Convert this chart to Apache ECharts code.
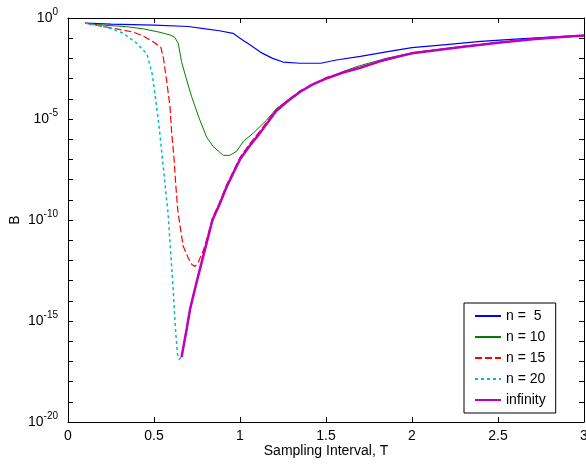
<!DOCTYPE html>
<html>
<head>
<meta charset="utf-8">
<script src="https://cdn.jsdelivr.net/npm/echarts@6/dist/echarts.min.js"></script>
<style>
html,body{margin:0;padding:0;background:#fff;}
#c{width:586px;height:472px;}
</style>
</head>
<body>
<div id="c"></div>
<script>
// log10(B) values
var seriesNames = ['n =  5', 'n = 10', 'n = 15', 'n = 20', 'infinity'];
var xTicks = [0, 0.5, 1, 1.5, 2, 2.5, 3];
var yTickLabels = [0, -5, -10, -15, -20];

var T_n5 = [0.1, 0.25, 0.5, 0.7, 0.8, 0.88, 0.96, 1.0, 1.06, 1.12, 1.19, 1.25, 1.35, 1.47, 1.56, 1.7, 1.85, 2.0, 2.2, 2.4, 2.6, 2.8, 3.0];
var logB_n5 = [-0.25, -0.3, -0.35, -0.42, -0.54, -0.63, -0.76, -1.0, -1.34, -1.7, -2.0, -2.18, -2.24, -2.24, -2.08, -1.9, -1.68, -1.47, -1.32, -1.16, -1.05, -0.95, -0.86];

var T_n10 = [0.1, 0.17, 0.34, 0.44, 0.535, 0.593, 0.62, 0.641, 0.66, 0.69, 0.719, 0.762, 0.806, 0.845, 0.903, 0.94, 0.98, 1.02, 1.077, 1.155, 1.21, 1.31, 1.41, 1.5, 1.6, 1.68, 1.85, 2.0, 2.3, 2.7, 3.0];
var logB_n10 = [-0.25, -0.33, -0.43, -0.54, -0.71, -0.84, -0.95, -1.25, -2.16, -3.07, -3.9, -4.95, -5.9, -6.37, -6.8, -6.8, -6.6, -6.1, -5.7, -5.05, -4.5, -3.85, -3.35, -3.0, -2.65, -2.4, -2.0, -1.72, -1.4, -1.04, -0.87];

var T_n15 = [0.1, 0.29, 0.38, 0.44, 0.5, 0.54, 0.555, 0.575, 0.593, 0.603, 0.616, 0.626, 0.638, 0.655, 0.67, 0.70, 0.72, 0.738, 0.757, 0.787, 0.81, 0.84, 0.88, 0.92, 0.96, 1.0, 1.05, 1.12, 1.21, 1.35, 1.5, 1.72, 2.0, 2.3, 2.7, 3.0];
var logB_n15 = [-0.25, -0.55, -0.7, -0.9, -1.2, -1.45, -2.0, -3.2, -4.4, -5.7, -6.9, -8.2, -9.5, -10.5, -11.3, -11.9, -12.2, -12.3, -12.1, -11.5, -10.85, -9.9, -9.15, -8.3, -7.6, -6.9, -6.3, -5.55, -4.55, -3.6, -2.95, -2.38, -1.73, -1.41, -1.04, -0.87];

var T_n20 = [0.1, 0.19, 0.26, 0.32, 0.4, 0.46, 0.49, 0.51, 0.53, 0.547, 0.564, 0.583, 0.60, 0.612, 0.624, 0.636, 0.645, 0.66, 0.69, 0.71, 0.75, 0.78, 0.81, 0.84, 0.88, 0.92, 0.96, 1.0, 1.05, 1.12, 1.21, 1.28, 1.35, 1.42, 1.5, 1.6, 1.72, 1.85, 2.0, 2.15, 2.3, 2.5, 2.7, 2.85, 3.0];
var logB_n20 = [-0.25, -0.4, -0.55, -0.75, -1.25, -1.8, -2.8, -4.05, -5.4, -6.8, -8.2, -9.8, -12.0, -13.5, -15.3, -16.6, -16.9, -16.8, -15.4, -14.4, -13.0, -12.0, -11.0, -10.0, -9.25, -8.4, -7.7, -7.0, -6.4, -5.65, -4.6, -4.1, -3.65, -3.3, -3.0, -2.7, -2.41, -2.05, -1.75, -1.58, -1.42, -1.23, -1.05, -0.95, -0.87];

var T_inf = [0.66, 0.69, 0.71, 0.75, 0.78, 0.81, 0.84, 0.88, 0.92, 0.96, 1.0, 1.05, 1.12, 1.21, 1.28, 1.35, 1.42, 1.5, 1.6, 1.72, 1.85, 2.0, 2.15, 2.3, 2.5, 2.7, 2.85, 3.0];
var logB_inf = [-16.8, -15.4, -14.4, -13.0, -12.0, -11.0, -10.0, -9.25, -8.4, -7.7, -7.0, -6.4, -5.65, -4.6, -4.1, -3.65, -3.3, -3.0, -2.7, -2.41, -2.05, -1.75, -1.58, -1.42, -1.23, -1.05, -0.95, -0.87];

function pairs(xs, ys) { return xs.map(function (x, i) { return [x, ys[i]]; }); }

var FONT = '"Liberation Sans", Arial, sans-serif';
var chart = echarts.init(document.getElementById('c'), null, {renderer: 'canvas'});

var axisCommon = {
  axisLine: {show: true, onZero: false, lineStyle: {color: '#000', width: 1}},
  axisTick: {show: true, inside: true, length: 5, lineStyle: {color: '#000', width: 1}},
  splitLine: {show: false}
};

chart.setOption({
  animation: false,
  backgroundColor: '#fff',
  grid: {left: 68, right: 2, top: 18, bottom: 50, containLabel: false, outerBoundsMode: 'none'},
  legend: {
    orient: 'vertical',
    left: 464, top: 303,
    padding: [6, 10, 6, 10],
    itemWidth: 26, itemHeight: 12, itemGap: 7,
    borderColor: '#000', borderWidth: 1, backgroundColor: '#fff',
    itemStyle: {opacity: 0},
    textStyle: {fontFamily: FONT, fontSize: 14, color: '#000'},
    data: seriesNames
  },
  xAxis: [
    Object.assign({}, axisCommon, {
      type: 'value', min: 0, max: 3, interval: 0.5, position: 'bottom',
      name: 'Sampling Interval, T', nameLocation: 'middle', nameGap: 22, nameMoveOverlap: false,
      nameTextStyle: {fontFamily: FONT, fontSize: 14, color: '#000'},
      axisLabel: {fontFamily: FONT, fontSize: 14, color: '#000', margin: 7,
        formatter: function (v) { return xTicks.indexOf(v) >= 0 ? String(v) : ''; }}
    }),
    Object.assign({}, axisCommon, {
      type: 'value', min: 0, max: 3, interval: 0.5, position: 'top',
      axisLabel: {show: false}
    })
  ],
  yAxis: [
    Object.assign({}, axisCommon, {
      type: 'value', min: -20, max: 0, interval: 1, position: 'left',
      name: 'B', nameLocation: 'middle', nameGap: 46, nameRotate: 90, nameMoveOverlap: false,
      nameTextStyle: {fontFamily: FONT, fontSize: 14, color: '#000'},
      axisLabel: {
        margin: 10, color: '#000',
        formatter: function (v) {
          if (yTickLabels.indexOf(v) < 0) return '';
          return '{b|10}{s|' + v + '}';
        },
        rich: {
          b: {fontFamily: FONT, fontSize: 14, color: '#000', lineHeight: 14, verticalAlign: 'bottom'},
          s: {fontFamily: FONT, fontSize: 10, color: '#000', lineHeight: 14, padding: [0, 0, 8, 0], verticalAlign: 'bottom'}
        }
      }
    }),
    Object.assign({}, axisCommon, {
      type: 'value', min: -20, max: 0, interval: 1, position: 'right',
      axisLabel: {show: false}
    })
  ],
  series: [
    {name: seriesNames[0], type: 'line', data: pairs(T_n5, logB_n5), showSymbol: false, symbol: 'none',
     lineStyle: {color: '#0000ff', width: 1.2}, itemStyle: {color: '#0000ff'}},
    {name: seriesNames[1], type: 'line', data: pairs(T_n10, logB_n10), showSymbol: false, symbol: 'none',
     lineStyle: {color: '#008000', width: 1}, itemStyle: {color: '#008000'}},
    {name: seriesNames[2], type: 'line', data: pairs(T_n15, logB_n15), showSymbol: false, symbol: 'none',
     lineStyle: {color: '#ff0000', width: 1.2, type: [7, 3]}, itemStyle: {color: '#ff0000'}},
    {name: seriesNames[3], type: 'line', data: pairs(T_n20, logB_n20), showSymbol: false, symbol: 'none',
     lineStyle: {color: '#00bfbf', width: 1.5, type: [3, 3]}, itemStyle: {color: '#00bfbf'}},
    {name: seriesNames[4], type: 'line', data: pairs(T_inf, logB_inf), showSymbol: false, symbol: 'none',
     lineStyle: {color: '#bf00bf', width: 2.5}, itemStyle: {color: '#bf00bf'}}
  ]
});
</script>
</body>
</html>
